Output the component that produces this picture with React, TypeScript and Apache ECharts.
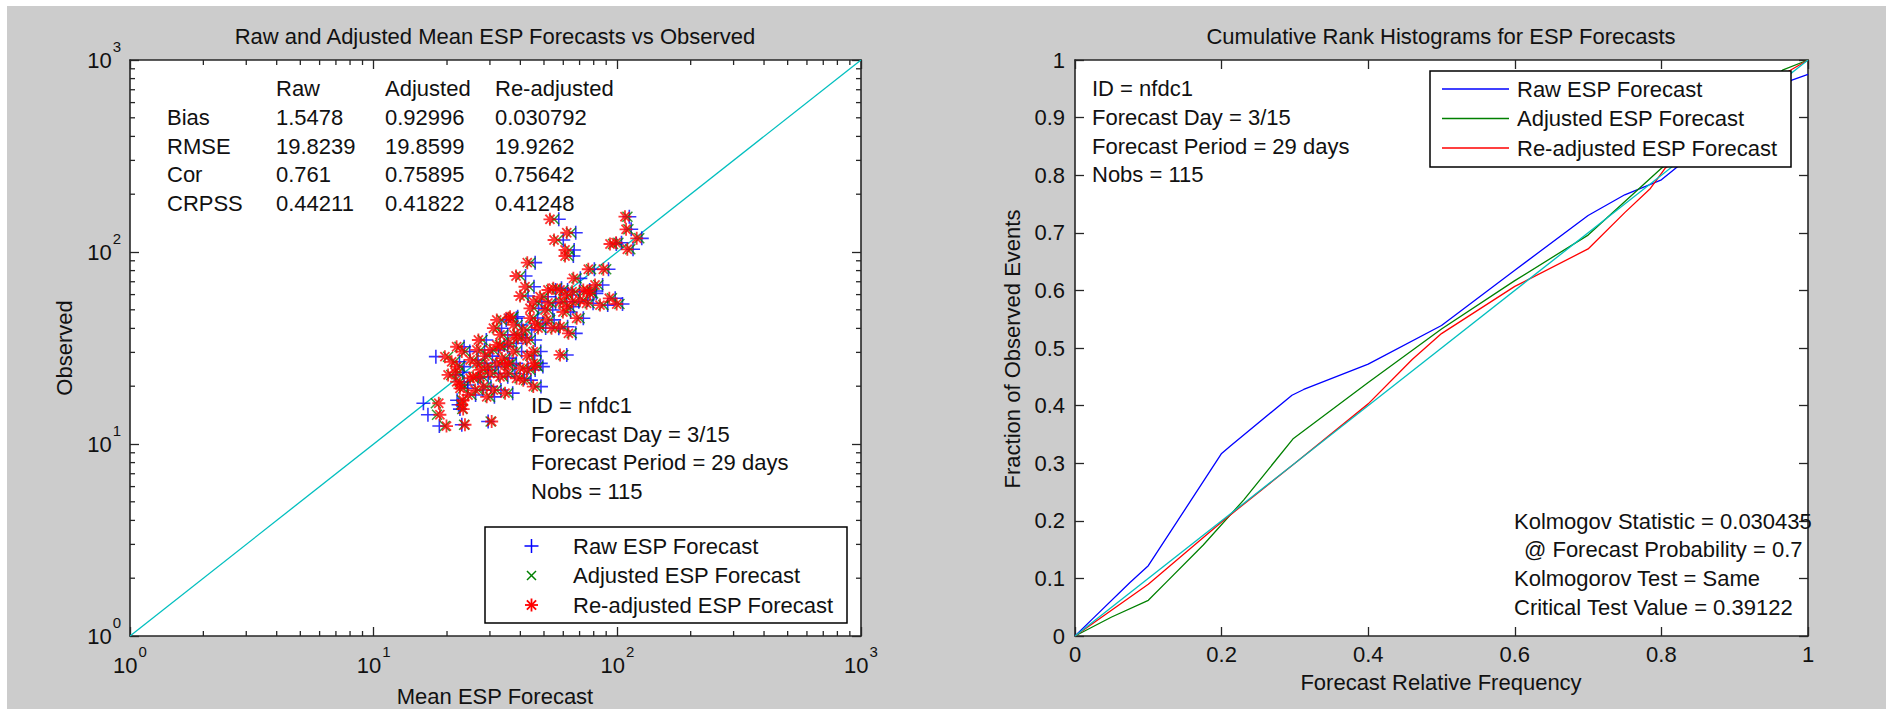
import React, { useEffect, useRef } from 'react';
import * as echarts from 'echarts';

const FONT = "'Liberation Sans', Arial, Helvetica, sans-serif";
const TXT = '#111111';
const AX = '#262626';

// ---------- Left panel: mean ESP forecast vs observed (log-log) ----------
const observed = [148, 152.7, 131.3, 126, 115.5, 102.4, 95.3, 110.1, 111.7, 103.3,
  117.8, 88.0, 75.0, 81.3, 81.3, 72.9, 65.9, 59.0, 64.7, 63.4,
  59.7, 63.4, 60.9, 57.4, 53.6, 55.1, 51.9, 55.1, 54.1, 55.1,
  50.9, 58.5, 44.3, 45.2, 41.7, 40.1, 42.5, 44.3, 40.1, 40.8,
  37.7, 45.2, 39.3, 34.8, 30.9, 30.9, 32.1, 33.5, 30.3, 34.8,
  30.3, 32.1, 28.5, 26.8, 25.3, 30.3, 26.3, 25.3, 26.3, 26.3,
  24.8, 26.3, 29.1, 23.3, 22.4, 23.3, 22.0, 24.3, 25.3, 22.4,
  22.4, 21.1, 19.5, 19.9, 19.1, 18.4, 21.5, 19.9, 16.9, 16.0,
  16.3, 14.2, 12.4, 12.6, 13.1, 15.2, 24.3, 17.6,
  22.0, 46.0, 20.3, 49.9, 56.2, 67.3, 63.4, 37.0, 35.7, 27.4, 45.3,
  52.9, 32.8, 37.0, 19.1, 22.9,
  48.7, 62.6, 25.8, 28.8, 23.6, 54.3, 40.2, 28.0, 28.7, 62.1, 18.0];

const rawForecast = [57.5, 112, 114, 67.5, 60.0, 66.5, 66.0, 99.0, 104, 116,
  126, 46.0, 42.0, 80.5, 92.0, 70.5, 45.5, 43.0, 59.0, 62.5,
  65.5, 77.0, 82.0, 98.0, 105, 62.0, 66.0, 69.5, 79.5, 49.0,
  47.5, 52.0, 35.0, 38.5, 40.5, 33.5, 49.5, 55.0, 57.5, 62.5,
  67.5, 72.5, 44.5, 29.0, 28.5, 32.5, 35.5, 38.5, 40.5, 46.0,
  48.5, 23.5, 18.0, 22.5, 23.5, 24.8, 28.5, 31.5, 34.5, 38.5,
  43.0, 48.5, 62.0, 32.5, 35.5, 38.0, 41.5, 46.0, 49.5, 27.5,
  29.5, 23.5, 24.3, 30.3, 33.3, 37.2, 44.2, 48.6, 22.0, 22.3,
  16.0, 16.7, 18.6, 23.0, 29.5, 22.6, 29.4, 31.3,
  26.8, 39.0, 24.3, 54.3, 75.5, 87.0, 55.8, 35.5, 42.0, 26.8, 47.1,
  91.3, 34.4, 40.5, 28.1, 21.7,
  64.3, 81.2, 37.2, 45.8, 23.2, 55.8, 50.8, 36.1, 30.7, 70.1, 26.2];

const adjustedForecast = [55.0, 110, 111, 64.5, 57.0, 63.5, 63.0, 96.0, 101, 113,
  123, 44.0, 40.0, 78.0, 90.0, 68.0, 43.5, 41.5, 56.5, 60.0,
  63.0, 74.5, 79.5, 95.0, 102, 60.0, 64.0, 67.0, 77.0, 47.0,
  45.5, 50.0, 33.5, 37.0, 39.0, 32.0, 47.5, 53.0, 55.5, 60.0,
  65.0, 70.0, 42.5, 28.0, 27.5, 31.0, 34.0, 37.0, 38.5, 44.0,
  46.5, 22.5, 20.2, 21.5, 22.6, 23.7, 27.3, 30.0, 33.0, 36.8,
  41.0, 46.5, 60.0, 31.0, 34.0, 36.2, 39.7, 44.0, 47.3, 26.4,
  28.1, 22.6, 23.3, 29.0, 31.9, 35.6, 42.3, 46.5, 23.0, 22.8,
  18.0, 18.2, 19.6, 23.5, 30.2, 23.1, 28.2, 30.0,
  25.7, 37.5, 23.3, 52.1, 72.5, 83.5, 53.5, 34.0, 40.3, 25.7, 45.2,
  87.6, 33.0, 38.9, 26.9, 20.8,
  61.7, 77.9, 35.7, 43.9, 22.3, 53.5, 48.8, 34.7, 29.5, 67.3, 25.2];

const readjustedForecast = [52.9, 107.5, 108.6, 62.0, 55.0, 61.0, 61.0, 93.3, 98.8, 109.9,
  120.1, 42.7, 38.4, 76.0, 87.6, 66.0, 41.8, 39.9, 54.6, 58.2,
  61.0, 72.5, 77.2, 92.7, 99.4, 58.2, 62.0, 65.0, 74.8, 45.2,
  43.8, 48.2, 32.0, 35.7, 37.4, 31.0, 45.9, 51.3, 53.7, 58.2,
  63.0, 68.1, 41.1, 26.9, 26.5, 30.0, 33.0, 35.7, 37.4, 42.5,
  45.2, 21.9, 19.6, 20.9, 21.9, 23.0, 26.5, 29.1, 32.0, 35.7,
  39.9, 45.2, 58.2, 30.0, 33.0, 35.2, 38.6, 42.5, 45.9, 25.6,
  27.3, 21.9, 22.6, 28.2, 31.0, 34.6, 41.1, 45.2, 23.3, 23.0,
  18.5, 18.7, 19.9, 23.7, 30.5, 23.3, 27.3, 29.1,
  24.9, 36.3, 22.6, 50.5, 70.3, 81.0, 51.9, 33.0, 39.1, 24.9, 43.8,
  84.9, 32.0, 37.7, 26.1, 20.2,
  59.8, 75.5, 34.6, 42.6, 21.6, 51.9, 47.3, 33.6, 28.6, 65.2, 24.4];

const oneToOneLine = [1, 1000];
const logMinorTicks = [2, 3, 4, 5, 6, 7, 8, 9, 20, 30, 40, 50, 60, 70, 80, 90,
  200, 300, 400, 500, 600, 700, 800, 900];

const statHeaders = ['Raw', 'Adjusted', 'Re-adjusted'];
const statNames = ['Bias', 'RMSE', 'Cor', 'CRPSS'];
const statRaw = ['1.5478', '19.8239', '0.761', '0.44211'];
const statAdjusted = ['0.92996', '19.8599', '0.75895', '0.41822'];
const statReadjusted = ['0.030792', '19.9262', '0.75642', '0.41248'];

const infoLines = ['ID = nfdc1', 'Forecast Day = 3/15', 'Forecast Period = 29 days', 'Nobs = 115'];
const seriesNames = ['Raw ESP Forecast', 'Adjusted ESP Forecast', 'Re-adjusted ESP Forecast'];

// ---------- Right panel: cumulative rank histograms ----------
const rawCurveX = [0, 0.025, 0.075, 0.1, 0.2, 0.212, 0.296, 0.312, 0.4, 0.5, 0.6, 0.7, 0.75, 0.8, 0.9, 0.978, 1];
const rawCurveY = [0, 0.031, 0.093, 0.122, 0.317, 0.33, 0.418, 0.428, 0.472, 0.539, 0.635, 0.73, 0.766, 0.792, 0.895, 0.965, 0.975];
const adjCurveX = [0, 0.05, 0.1, 0.125, 0.175, 0.23, 0.298, 0.4, 0.5, 0.6, 0.7, 0.8, 0.9, 0.966, 1];
const adjCurveY = [0, 0.033, 0.062, 0.094, 0.158, 0.236, 0.343, 0.44, 0.533, 0.617, 0.696, 0.812, 0.905, 0.983, 1];
const readjCurveX = [0, 0.1, 0.2, 0.3, 0.4, 0.46, 0.5, 0.6, 0.7, 0.75, 0.785, 0.805, 0.9, 0.973, 1];
const readjCurveY = [0, 0.09, 0.198, 0.3, 0.403, 0.48, 0.525, 0.607, 0.672, 0.735, 0.777, 0.812, 0.9, 0.98, 1];
const diagonalX = [0, 1];
const diagonalY = [0, 1];

const ksLines = ['Kolmogov Statistic = 0.030435', '@ Forecast Probability = 0.7',
  'Kolmogorov Test = Same', 'Critical Test Value = 0.39122'];

const BLUE = '#0000ff';
const GREEN = '#008000';
const RED = '#ff0000';
const CYAN = '#00bfbf';

const PLUS = 'path://M0,-1L0,1M-1,0L1,0';
const CROSS = 'path://M-1,-1L1,1M-1,1L1,-1';
const STAR = 'path://M0,-1L0,1M-1,0L1,0M-0.7,-0.7L0.7,0.7M-0.7,0.7L0.7,-0.7';

function text(x: number, y: number, s: string, align = 'left', extra: any = {}) {
  return {
    type: 'text', x, y, z: 100, silent: true,
    style: { text: s, fill: TXT, font: `22px ${FONT}`, align, verticalAlign: 'middle', ...extra },
  };
}

function markerLines(cx: number, cy: number, kind: string, color: string) {
  const segs: number[][] = [];
  if (kind === 'plus' || kind === 'star') {
    const h = kind === 'plus' ? 7 : 6.5;
    segs.push([cx - h, cy, cx + h, cy], [cx, cy - h, cx, cy + h]);
  }
  if (kind === 'cross' || kind === 'star') {
    const d = kind === 'cross' ? 4.5 : 4.6;
    segs.push([cx - d, cy - d, cx + d, cy + d], [cx - d, cy + d, cx + d, cy - d]);
  }
  return segs.map((s) => ({
    type: 'line', z: 101, silent: true,
    shape: { x1: s[0], y1: s[1], x2: s[2], y2: s[3] },
    style: { stroke: color, lineWidth: kind === 'star' ? 1.8 : 1.5 },
  }));
}

const logLabel = {
  formatter: (v: number) => `{b|10}{s|${Math.round(Math.log10(v))}}`,
  rich: {
    b: { fontSize: 22, fontFamily: FONT, color: TXT, padding: [10, 0, 10, 0], verticalAlign: 'top' },
    s: { fontSize: 15, fontFamily: FONT, color: TXT, verticalAlign: 'top', padding: [0, 0, 0, 1] },
  },
};

const axisLineStyle = { show: true, onZero: false, lineStyle: { color: AX, width: 1.6 } };
const tickStyle = { show: true, inside: true, length: 9, lineStyle: { color: AX, width: 1.3 } };

function buildOption() {
  const graphics: any[] = [];
  // titles
  graphics.push(text(495, 36, 'Raw and Adjusted Mean ESP Forecasts vs Observed', 'center'));
  graphics.push(text(1441, 36, 'Cumulative Rank Histograms for ESP Forecasts', 'center'));
  // axis names
  graphics.push(text(495, 696, 'Mean ESP Forecast', 'center'));
  graphics.push(text(1441, 682, 'Forecast Relative Frequency', 'center'));
  graphics.push({ ...text(64, 348, 'Observed', 'center'), rotation: Math.PI / 2 });
  graphics.push({ ...text(1012, 349, 'Fraction of Observed Events', 'center'), rotation: Math.PI / 2 });

  // stats table
  const colX = [276, 385, 495];
  const rowY = [117, 146, 174.5, 203];
  statHeaders.forEach((h, i) => graphics.push(text(colX[i], 88, h)));
  statNames.forEach((n, r) => {
    graphics.push(text(167, rowY[r], n));
    graphics.push(text(colX[0], rowY[r], statRaw[r]));
    graphics.push(text(colX[1], rowY[r], statAdjusted[r]));
    graphics.push(text(colX[2], rowY[r], statReadjusted[r]));
  });
  // info text (left)
  const infoYL = [405, 434, 462.5, 491];
  infoLines.forEach((s, i) => graphics.push(text(531, infoYL[i], s)));
  // info text (right)
  const infoYR = [88, 117, 146, 174.5];
  infoLines.forEach((s, i) => graphics.push(text(1092, infoYR[i], s)));
  // KS text
  const ksY = [521, 549, 578, 607];
  const ksX = [1514, 1524, 1514, 1514];
  ksLines.forEach((s, i) => graphics.push(text(ksX[i], ksY[i], s)));

  // left legend
  graphics.push({
    type: 'rect', z: 99, silent: true,
    shape: { x: 485, y: 527, width: 362, height: 96 },
    style: { fill: '#ffffff', stroke: '#000000', lineWidth: 1.5 },
  });
  const legY = [546, 575.5, 605];
  const kinds = ['plus', 'cross', 'star'];
  const cols = [BLUE, GREEN, RED];
  seriesNames.forEach((n, i) => {
    graphics.push(...markerLines(531.5, legY[i], kinds[i], cols[i]));
    graphics.push(text(573, legY[i], n));
  });

  // right legend
  graphics.push({
    type: 'rect', z: 99, silent: true,
    shape: { x: 1430, y: 71, width: 361, height: 96 },
    style: { fill: '#ffffff', stroke: '#000000', lineWidth: 1.5 },
  });
  const legYR = [89, 118.5, 148];
  seriesNames.forEach((n, i) => {
    graphics.push({
      type: 'line', z: 101, silent: true,
      shape: { x1: 1442, y1: legYR[i], x2: 1509, y2: legYR[i] },
      style: { stroke: cols[i], lineWidth: 1.3 },
    });
    graphics.push(text(1517, legYR[i], n));
  });

  const scatterItem = (color: string, w: number) => ({ color: 'transparent', borderColor: color, borderWidth: w });

  return {
    animation: false,
    backgroundColor: 'transparent',
    textStyle: { fontFamily: FONT },
    grid: [
      { left: 130, top: 60, width: 731, height: 576, show: true, backgroundColor: '#ffffff', borderWidth: 0 },
      { left: 1075, top: 60, width: 733, height: 576, show: true, backgroundColor: '#ffffff', borderWidth: 0 },
    ],
    xAxis: [
      { gridIndex: 0, type: 'log', logBase: 10, min: 1, max: 1000, position: 'bottom',
        axisLine: axisLineStyle, axisTick: tickStyle, splitLine: { show: false },
        axisLabel: { ...logLabel, margin: 8 } },
      { gridIndex: 0, type: 'log', logBase: 10, min: 1, max: 1000, position: 'top',
        axisLine: axisLineStyle, axisTick: tickStyle, splitLine: { show: false }, axisLabel: { show: false } },
      { gridIndex: 1, type: 'value', min: 0, max: 1, interval: 0.2, position: 'bottom',
        axisLine: axisLineStyle, axisTick: tickStyle, splitLine: { show: false },
        axisLabel: { fontSize: 22, fontFamily: FONT, color: TXT, margin: 7 } },
      { gridIndex: 1, type: 'value', min: 0, max: 1, interval: 0.2, position: 'top',
        axisLine: axisLineStyle, axisTick: tickStyle, splitLine: { show: false }, axisLabel: { show: false } },
    ],
    yAxis: [
      { gridIndex: 0, type: 'log', logBase: 10, min: 1, max: 1000, position: 'left',
        axisLine: axisLineStyle, axisTick: tickStyle, splitLine: { show: false },
        axisLabel: { ...logLabel, margin: 9 } },
      { gridIndex: 0, type: 'log', logBase: 10, min: 1, max: 1000, position: 'right',
        axisLine: axisLineStyle, axisTick: tickStyle, splitLine: { show: false }, axisLabel: { show: false } },
      { gridIndex: 1, type: 'value', min: 0, max: 1, interval: 0.1, position: 'left',
        axisLine: axisLineStyle, axisTick: tickStyle, splitLine: { show: false },
        axisLabel: { fontSize: 22, fontFamily: FONT, color: TXT, margin: 10 } },
      { gridIndex: 1, type: 'value', min: 0, max: 1, interval: 0.1, position: 'right',
        axisLine: axisLineStyle, axisTick: tickStyle, splitLine: { show: false }, axisLabel: { show: false } },
    ],
    graphic: { elements: graphics },
    series: [
      {
        type: 'custom', xAxisIndex: 0, yAxisIndex: 0, silent: true, clip: false, z: 1,
        data: logMinorTicks.map((v) => [v, v]),
        renderItem: (params: any, api: any) => {
          const v = api.value(0);
          const b = api.coord([v, 1]);
          const t = api.coord([v, 1000]);
          const l = api.coord([1, v]);
          const r = api.coord([1000, v]);
          const st = { stroke: AX, lineWidth: 1.3 };
          const L = 5;
          return {
            type: 'group',
            children: [
              { type: 'line', shape: { x1: b[0], y1: b[1], x2: b[0], y2: b[1] - L }, style: st },
              { type: 'line', shape: { x1: t[0], y1: t[1], x2: t[0], y2: t[1] + L }, style: st },
              { type: 'line', shape: { x1: l[0], y1: l[1], x2: l[0] + L, y2: l[1] }, style: st },
              { type: 'line', shape: { x1: r[0], y1: r[1], x2: r[0] - L, y2: r[1] }, style: st },
            ],
          };
        },
      },
      {
        type: 'line', xAxisIndex: 0, yAxisIndex: 0, silent: true, symbol: 'none', z: 2,
        data: oneToOneLine.map((v) => [v, v]),
        lineStyle: { color: CYAN, width: 1.3 },
      },
      {
        type: 'scatter', name: seriesNames[0], xAxisIndex: 0, yAxisIndex: 0, silent: true, z: 3,
        data: rawForecast.map((f, i) => [f, observed[i]]),
        symbol: PLUS, symbolSize: 14, itemStyle: scatterItem(BLUE, 1.6),
      },
      {
        type: 'scatter', name: seriesNames[1], xAxisIndex: 0, yAxisIndex: 0, silent: true, z: 4,
        data: adjustedForecast.map((f, i) => [f, observed[i]]),
        symbol: CROSS, symbolSize: 10, itemStyle: scatterItem(GREEN, 1.5),
      },
      {
        type: 'scatter', name: seriesNames[2], xAxisIndex: 0, yAxisIndex: 0, silent: true, z: 5,
        data: readjustedForecast.map((f, i) => [f, observed[i]]),
        symbol: STAR, symbolSize: 13, itemStyle: scatterItem(RED, 1.8),
      },
      {
        type: 'line', name: seriesNames[0], xAxisIndex: 2, yAxisIndex: 2, silent: true, symbol: 'none', z: 3,
        data: rawCurveX.map((x, i) => [x, rawCurveY[i]]), lineStyle: { color: BLUE, width: 1.3 },
      },
      {
        type: 'line', name: seriesNames[1], xAxisIndex: 2, yAxisIndex: 2, silent: true, symbol: 'none', z: 3,
        data: adjCurveX.map((x, i) => [x, adjCurveY[i]]), lineStyle: { color: GREEN, width: 1.3 },
      },
      {
        type: 'line', name: seriesNames[2], xAxisIndex: 2, yAxisIndex: 2, silent: true, symbol: 'none', z: 3,
        data: readjCurveX.map((x, i) => [x, readjCurveY[i]]), lineStyle: { color: RED, width: 1.3 },
      },
      {
        type: 'line', xAxisIndex: 2, yAxisIndex: 2, silent: true, symbol: 'none', z: 4,
        data: diagonalX.map((x, i) => [x, diagonalY[i]]), lineStyle: { color: CYAN, width: 1.3 },
      },
    ],
  };
}

export default function App() {
  const ref = useRef<HTMLDivElement>(null);
  useEffect(() => {
    if (!ref.current) return;
    const chart = echarts.init(ref.current, null, { renderer: 'svg' });
    chart.setOption(buildOption() as any);
    return () => chart.dispose();
  }, []);
  return (
    <div style={{ position: 'fixed', left: 0, top: 0, width: 1899, height: 709, background: '#ffffff' }}>
      <div style={{ position: 'absolute', left: 7, top: 6, width: 1879, height: 703, background: '#cccccc' }} />
      <div ref={ref} style={{ position: 'absolute', left: 0, top: 0, width: 1899, height: 709 }} />
    </div>
  );
}
